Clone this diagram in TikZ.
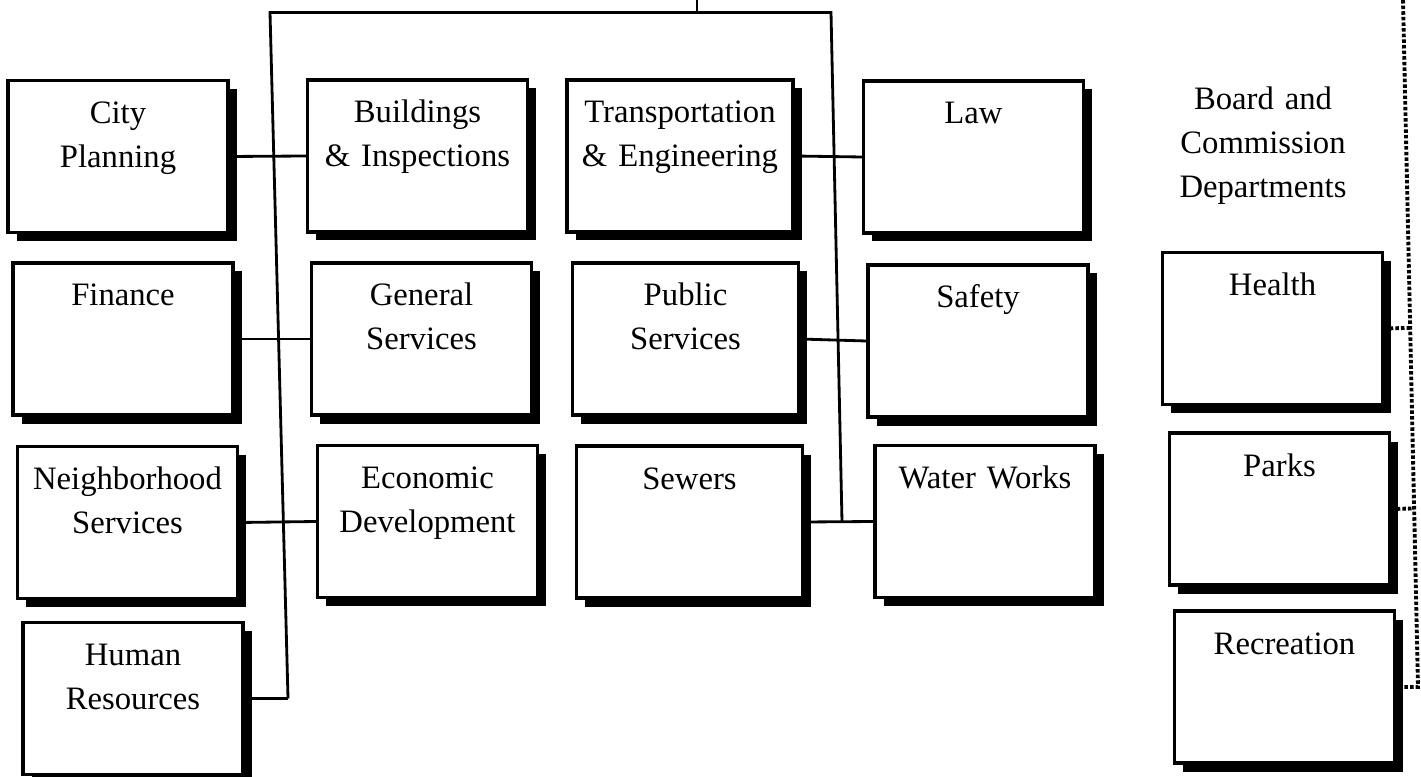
\documentclass[tikz,border=0pt]{standalone}
\usepackage{fontspec}
\setmainfont{Liberation Serif}
\usetikzlibrary{shapes,positioning,shadows,calc}
\begin{document}
\begin{tikzpicture}[
      dept/.style={draw, fill=white, line width=0.9pt, text width=2.1cm, align=center,
        inner sep=0pt, minimum width=2.2cm, text height=0.43cm, text depth=1.09cm,
        font=\fontsize{9.3pt}{12.4pt}\selectfont,
        drop shadow={shadow xshift=0.085cm, shadow yshift=-0.085cm, fill=black, opacity=1}},
      widebox/.style={minimum width=2.26cm},
      board/.style={text width=3cm, align=center, anchor=base, inner sep=0pt,
        font=\fontsize{9.3pt}{12.4pt}\selectfont},
      bus/.style={line width=0.8pt},
      dotline/.style={line width=1.1pt, dash pattern=on 1pt off 0.6pt}
      ]
      \useasboundingbox (0,0) rectangle (14.21,-7.77);
      % left column
      \node[dept] (plan) at (1.18,-1.565) {City\\Planning};
      \node[dept] (fin) at (1.23,-3.39) {Finance};
      \node[dept] (nbhd) at (1.275,-5.225) {Neighborhood\\Services};
      \node[dept] (hr) at (1.33,-6.985) {Human\\Resources};
      % second column
      \node[dept] (bldg) at (4.175,-1.56) {Buildings\\\& Inspections};
      \node[dept] (gensvc) at (4.215,-3.39) {General\\Services};
      \node[dept] (econ) at (4.275,-5.215) {Economic\\Development};
      % third column
      \node[dept, widebox] (trans) at (6.80,-1.56) {Transportation\\\& Engineering};
      \node[dept, widebox] (pubsvc) at (6.855,-3.39) {Public\\Services};
      \node[dept, widebox] (sewer) at (6.895,-5.22) {Sewers};
      % fourth column
      \node[dept] (law) at (9.735,-1.57) {Law};
      \node[dept] (safety) at (9.78,-3.41) {Safety};
      \node[dept] (water) at (9.85,-5.215) {Water Works};
      % boards and commissions
      \node[board] (bc) at (12.63,-1.10) {Board and\\Commission\\Departments};
      \node[dept] (health) at (12.725,-3.285) {Health};
      \node[dept] (parks) at (12.795,-5.09) {Parks};
      \node[dept] (rec) at (12.845,-6.87) {Recreation};

      \coordinate (top) at (6.97,0);
      \coordinate (tm) at (6.97,-0.125);
      \coordinate (tl) at (2.70,-0.125);
      \coordinate (tr) at (8.31,-0.125);
      \coordinate (lbot) at (2.88,-6.985);
      \coordinate (rbot) at (8.42,-5.22);
      \coordinate (dtop) at (14.03,0);
      \coordinate (dbot) at (14.18,-6.87);

      \draw[bus] (top) -- (tm);
      \draw[bus] (lbot) -- (tl) -- (tr) -- (rbot);
      \draw[bus] (hr.east) -- (lbot);
      \foreach \a/\b in {plan/bldg,fin/gensvc,nbhd/econ,trans/law,pubsvc/safety,sewer/water}{
        \draw[bus] (\a.east) -- (\b.west);
      }
      \draw[dotline] (dtop) -- (dbot) -- (rec.east);
      \draw[dotline] (health.east) -- ($(dtop)!(health.east)!(dbot)$);
      \draw[dotline] (parks.east) -- ($(dtop)!(parks.east)!(dbot)$);
    \end{tikzpicture}
\end{document}
